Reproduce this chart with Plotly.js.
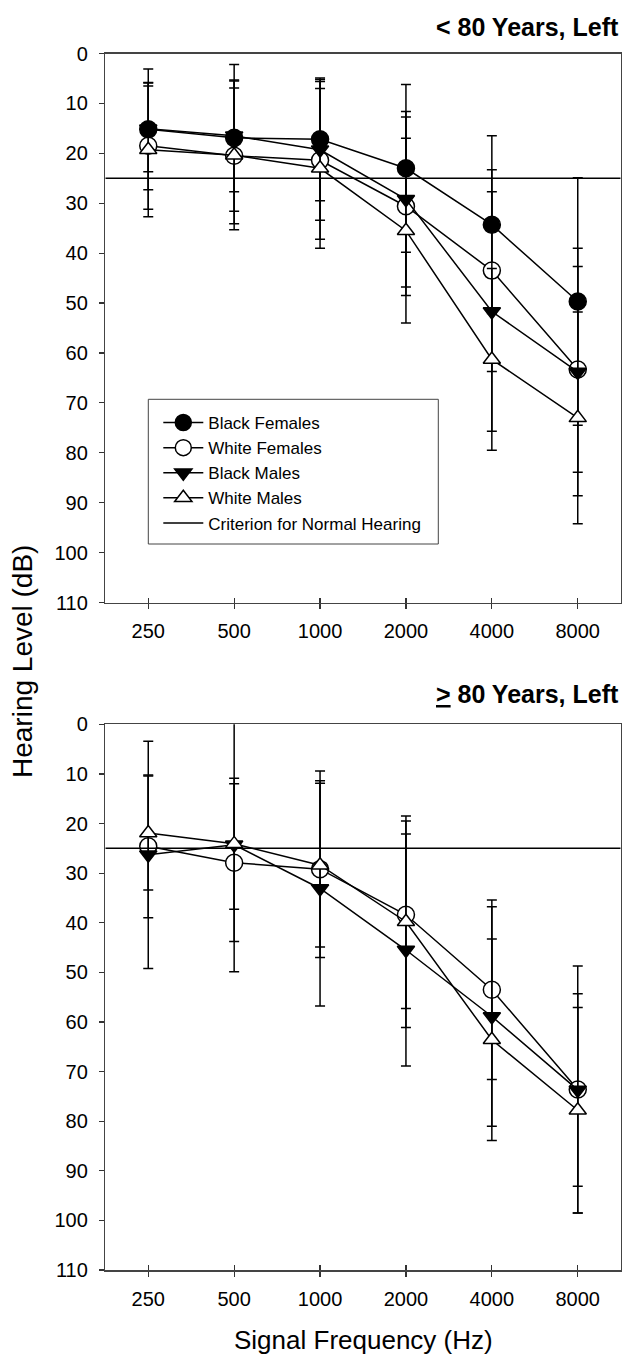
<!DOCTYPE html>
<html>
<head>
<meta charset="utf-8">
<script src="https://cdn.plot.ly/plotly-3.0.1.min.js"></script>
<style>
  html, body { margin: 0; padding: 0; background: #ffffff; }
  #chart { width: 640px; height: 1365px; }
</style>
</head>
<body>
<div id="chart"></div>
<script>
// ---- data ----
const freqLabels = ['250', '500', '1000', '2000', '4000', '8000'];
const criterion = 25;

// < 80 Years, Left : means and SDs (dB HL)
const young_BF_mean = [15.2, 16.9, 17.2, 23.0, 34.3, 49.7];
const young_BF_sd   = [12.1, 14.7, 12.3, 16.8, 17.8, 24.8];
const young_WF_mean = [18.5, 20.5, 21.4, 30.6, 43.5, 63.3];
const young_WF_sd   = [12.7, 13.6, 15.8, 17.9, 20.2, 20.6];
const young_BM_mean = [15.1, 16.5, 19.3, 29.2, 51.7, 63.8];
const young_BM_sd   = [8.6, 11.2, 14.1, 17.6, 24.0, 24.8];
const young_WM_mean = [19.3, 20.4, 23.0, 35.5, 61.3, 73.0];
const young_WM_sd   = [13.4, 14.9, 16.0, 18.5, 18.2, 21.2];

// >= 80 Years, Left
const old_WF_mean = [24.6, 27.9, 29.2, 38.4, 53.5, 73.6];
const old_WF_sd   = [14.4, 15.9, 17.8, 18.9, 18.1, 24.9];
const old_BM_mean = [26.3, 24.3, 33.1, 45.5, 58.9, 73.7];
const old_BM_sd   = [22.9, 25.6, 23.7, 23.4, 22.1, 19.4];
const old_WM_mean = [21.9, 24.1, 28.4, 39.8, 63.6, 77.8];
const old_WM_sd   = [11.5, 13.2, 16.5, 21.3, 20.3, 20.7];

const criterionName = 'Criterion for Normal Hearing';
const panelTitles = ['< 80 Years, Left', '<u>></u> 80 Years, Left'];
const yTitle = 'Hearing Level (dB)';
const xTitle = 'Signal Frequency (Hz)';

// ---- build ----
const W = 640, H = 1365;
const xIdx = freqLabels.map((_, i) => i);
const xRange = [-0.5, freqLabels.length - 0.5];
const FONT = 'Liberation Sans, Arial, Helvetica, sans-serif';

const styles = {
  'Black Females': {symbol: 'circle', size: 17, fill: '#000000'},
  'White Females': {symbol: 'circle', size: 17, fill: '#ffffff'},
  'Black Males':   {symbol: 'triangle-down', size: 15, fill: '#000000'},
  'White Males':   {symbol: 'triangle-up', size: 15, fill: '#ffffff'}
};

function series(name, mean, sd, xa, ya, showlegend) {
  const s = styles[name];
  return {
    type: 'scatter', mode: 'lines+markers', name: name,
    x: xIdx, y: mean, xaxis: xa, yaxis: ya,
    showlegend: showlegend, legendgroup: name,
    line: {color: '#000000', width: 1.5},
    marker: {symbol: s.symbol, size: s.size, color: s.fill,
             line: {color: '#000000', width: 1.5}},
    error_y: {type: 'data', array: sd, symmetric: true, visible: true,
              color: '#000000', thickness: 1.5, width: 5},
    cliponaxis: false
  };
}
function critLine(xa, ya, showlegend) {
  return {
    type: 'scatter', mode: 'lines', name: criterionName,
    x: xRange, y: [criterion, criterion], xaxis: xa, yaxis: ya,
    showlegend: showlegend, legendgroup: 'crit',
    line: {color: '#000000', width: 1.5}, hoverinfo: 'skip'
  };
}

const traces = [
  series('Black Females', young_BF_mean, young_BF_sd, 'x', 'y', true),
  series('White Females', young_WF_mean, young_WF_sd, 'x', 'y', true),
  series('Black Males', young_BM_mean, young_BM_sd, 'x', 'y', true),
  series('White Males', young_WM_mean, young_WM_sd, 'x', 'y', true),
  critLine('x', 'y', true),
  series('White Females', old_WF_mean, old_WF_sd, 'x2', 'y2', false),
  series('Black Males', old_BM_mean, old_BM_sd, 'x2', 'y2', false),
  series('White Males', old_WM_mean, old_WM_sd, 'x2', 'y2', false),
  critLine('x2', 'y2', false)
];

function px2x(p) { return p / W; }
function py2y(p) { return 1 - p / H; }

const xDomain = [px2x(105.3), px2x(620.7)];
const yDomTop = [py2y(602.5), py2y(53.5)];
const yDomBot = [py2y(1270), py2y(724.3)];

function xAxis(anchor, domain) {
  return {
    domain: domain, anchor: anchor, range: xRange, type: 'linear',
    tickmode: 'array', tickvals: xIdx, ticktext: freqLabels,
    ticks: 'outside', ticklen: 5, tickwidth: 1.2, tickcolor: '#333333',
    ticklabelstandoff: 5,
    showline: true, linecolor: '#444444', linewidth: 1.5, mirror: true,
    showgrid: false, zeroline: false,
    tickfont: {family: FONT, size: 20, color: '#000000'}
  };
}
function xInner(overlay, anchor, domain) {
  return {
    domain: domain, anchor: anchor, overlaying: overlay, range: xRange, type: 'linear',
    tickmode: 'array', tickvals: xIdx, showticklabels: false,
    ticks: 'inside', ticklen: 5, tickwidth: 1.2, tickcolor: '#333333',
    showline: false, showgrid: false, zeroline: false
  };
}
function yAxis(anchor, domain) {
  return {
    domain: domain, anchor: anchor, range: [110, 0], type: 'linear',
    tickmode: 'linear', tick0: 0, dtick: 10,
    ticks: 'outside', ticklen: 5, tickwidth: 1.2, tickcolor: '#333333',
    ticklabelstandoff: 7,
    showline: true, linecolor: '#444444', linewidth: 1.5, mirror: true,
    showgrid: false, zeroline: false,
    tickfont: {family: FONT, size: 20, color: '#000000'}
  };
}

const layout = {
  width: W, height: H,
  margin: {l: 0, r: 0, t: 0, b: 0, pad: 0},
  paper_bgcolor: '#ffffff', plot_bgcolor: '#ffffff',
  font: {family: FONT, color: '#000000'},
  showlegend: true,
  legend: {
    x: px2x(148.3), y: py2y(405), xanchor: 'left', yanchor: 'top',
    xref: 'paper', yref: 'paper',
    bgcolor: 'rgba(0,0,0,0)', borderwidth: 0,
    font: {family: FONT, size: 17, color: '#000000'},
    itemwidth: 40, indentation: 10,
    traceorder: 'normal', tracegroupgap: 0
  },
  // legend frame drawn as a box
  shapes: [
    {type: 'rect', xref: 'paper', yref: 'paper', layer: 'above',
     x0: px2x(148.3), x1: px2x(438.3), y0: py2y(544), y1: py2y(399.3),
     line: {color: '#444444', width: 1}, fillcolor: 'rgba(0,0,0,0)'}
  ],
  xaxis: xAxis('y', xDomain),
  yaxis: yAxis('x', yDomTop),
  xaxis2: xAxis('y2', xDomain),
  yaxis2: yAxis('x2', yDomBot),
  xaxis3: xInner('x', 'y', xDomain),
  xaxis4: xInner('x2', 'y2', xDomain),
  annotations: [
    {text: '<b>' + panelTitles[0] + '</b>', xref: 'paper', yref: 'paper',
     x: px2x(621), y: py2y(27), xanchor: 'right', yanchor: 'middle',
     showarrow: false, font: {family: FONT, size: 25, color: '#000000'}},
    {text: '<b>' + panelTitles[1] + '</b>', xref: 'paper', yref: 'paper',
     x: px2x(621), y: py2y(694), xanchor: 'right', yanchor: 'middle',
     showarrow: false, font: {family: FONT, size: 25, color: '#000000'}},
    {text: yTitle, xref: 'paper', yref: 'paper', textangle: -90,
     x: px2x(22), y: py2y(662), xanchor: 'center', yanchor: 'middle',
     showarrow: false, font: {family: FONT, size: 28, color: '#000000'}},
    {text: xTitle, xref: 'paper', yref: 'paper',
     x: px2x(363), y: py2y(1340), xanchor: 'center', yanchor: 'middle',
     showarrow: false, font: {family: FONT, size: 26, color: '#000000'}}
  ]
};

// empty helper traces so the inner-tick overlay axes are drawn
traces.push({type: 'scatter', mode: 'markers', x: [], y: [], xaxis: 'x3', yaxis: 'y',
             showlegend: false, hoverinfo: 'skip'});
traces.push({type: 'scatter', mode: 'markers', x: [], y: [], xaxis: 'x4', yaxis: 'y2',
             showlegend: false, hoverinfo: 'skip'});

Plotly.newPlot('chart', traces, layout, {displayModeBar: false, staticPlot: true});
</script>
</body>
</html>
